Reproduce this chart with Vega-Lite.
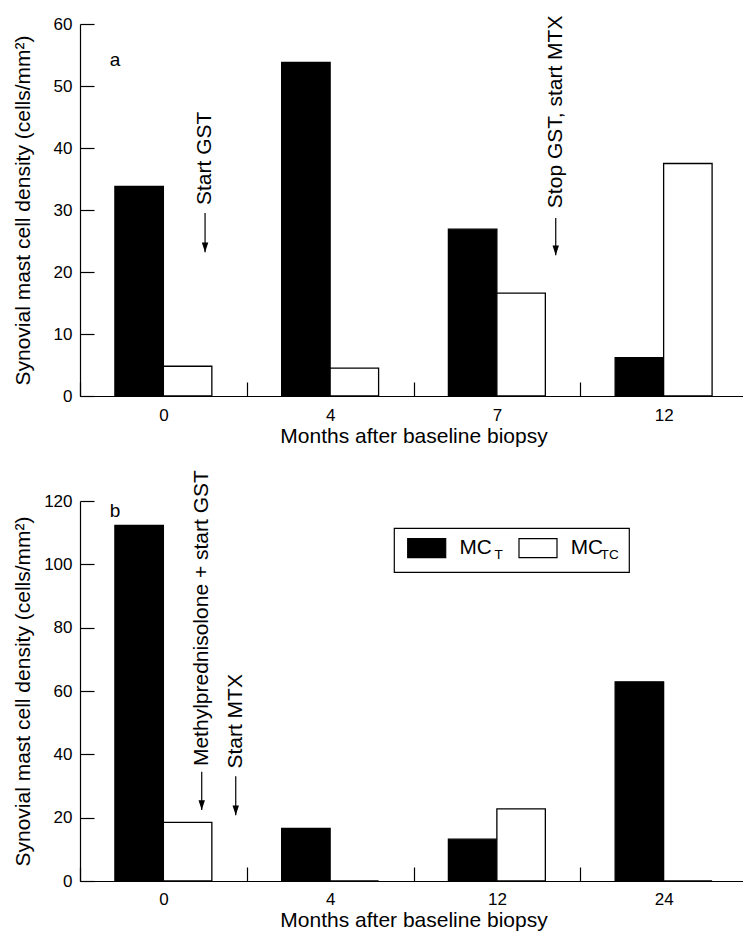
{
  "$schema": "https://vega.github.io/schema/vega-lite/v6.json",
  "padding": {"left": 12, "top": 15, "right": 0, "bottom": 6},
  "autosize": {"type": "pad"},
  "background": "white",
  "config": {
    "font": "Liberation Sans",
    "view": {"stroke": null},
    "axis": {
      "domainColor": "black", "tickColor": "black", "labelColor": "black", "titleColor": "black",
      "labelFont": "Liberation Sans", "titleFont": "Liberation Sans", "titleFontWeight": "normal",
      "grid": false, "domainWidth": 1.2, "tickWidth": 1.2
    },
    "text": {"font": "Liberation Sans", "color": "black"}
  },
  "datasets": {
    "barsA": [
      {"month": "0", "series": "MCT", "value": 33.8},
      {"month": "0", "series": "MCTC", "value": 4.8},
      {"month": "4", "series": "MCT", "value": 53.8},
      {"month": "4", "series": "MCTC", "value": 4.5},
      {"month": "7", "series": "MCT", "value": 26.9},
      {"month": "7", "series": "MCTC", "value": 16.6},
      {"month": "12", "series": "MCT", "value": 6.2},
      {"month": "12", "series": "MCTC", "value": 37.5}
    ],
    "barsB": [
      {"month": "0", "series": "MCT", "sub": "T", "value": 112.3},
      {"month": "0", "series": "MCTC", "sub": "TC", "value": 18.5},
      {"month": "4", "series": "MCT", "sub": "T", "value": 16.6},
      {"month": "4", "series": "MCTC", "sub": "TC", "value": 0},
      {"month": "12", "series": "MCT", "sub": "T", "value": 13.2},
      {"month": "12", "series": "MCTC", "sub": "TC", "value": 22.8},
      {"month": "24", "series": "MCT", "sub": "T", "value": 62.9},
      {"month": "24", "series": "MCTC", "sub": "TC", "value": 0}
    ],
    "annotA": [
      {"pos": 0.75, "label": "Start GST", "textY": 30.8, "lineTop": 29.5, "tip": 23.2},
      {"pos": 2.853, "label": "Stop GST, start MTX", "textY": 30.3, "lineTop": 28.7, "tip": 22.7}
    ],
    "annotB": [
      {"pos": 0.73, "label": "Methylprednisolone + start GST", "textY": 36.3, "lineTop": 34.5, "tip": 22.4},
      {"pos": 0.934, "label": "Start MTX", "textY": 35.5, "lineTop": 33.1, "tip": 20.8}
    ],
    "panelA": [{"pos": 0.21, "y": 54.2, "label": "a"}],
    "panelB": [{"pos": 0.21, "y": 117, "label": "b"}]
  },
  "vconcat": [
    {
      "width": 667,
      "height": 372,
      "layer": [
        {
          "data": {"name": "barsA"},
          "mark": {"type": "bar", "stroke": "black", "strokeWidth": 1.3},
          "encoding": {
            "x": {
              "field": "month", "type": "nominal", "sort": ["0", "4", "7", "12"],
              "scale": {"paddingInner": 0, "paddingOuter": 0},
              "axis": {
                "tickBand": "extent", "tickSize": -14, "labelPadding": 25, "labelFontSize": 17, "labelAngle": 0,
                "title": "Months after baseline biopsy", "titleFontSize": 21, "titleY": 46, "titleBaseline": "alphabetic"
              }
            },
            "xOffset": {"field": "series", "type": "nominal", "sort": ["MCT", "MCTC"], "scale": {"paddingInner": 0, "paddingOuter": 0.72}},
            "y": {
              "field": "value", "type": "quantitative", "scale": {"domain": [0, 60], "nice": false},
              "axis": {
                "values": [0, 10, 20, 30, 40, 50, 60], "tickSize": -14, "labelPadding": 22, "labelFontSize": 17,
                "title": "Synovial mast cell density (cells/mm²)", "titleFontSize": 21, "titleX": -51, "titleBaseline": "alphabetic"
              }
            },
            "fill": {"field": "series", "type": "nominal", "scale": {"domain": ["MCT", "MCTC"], "range": ["black", "white"]}, "legend": null}
          }
        },
        {
          "layer": [
            {
              "data": {"name": "annotA"},
              "mark": {"type": "rule", "color": "black", "strokeWidth": 1.2},
              "encoding": {
                "x": {"field": "pos", "type": "quantitative", "scale": {"domain": [0, 4], "nice": false, "zero": false}, "axis": null},
                "y": {"field": "lineTop", "type": "quantitative"},
                "y2": {"field": "tip"}
              }
            },
            {
              "data": {"name": "annotA"},
              "mark": {"type": "point", "shape": "M-1,-3L1,-3L0,0Z", "size": 42, "filled": true, "color": "black", "opacity": 1},
              "encoding": {
                "x": {"field": "pos", "type": "quantitative", "scale": {"domain": [0, 4], "nice": false, "zero": false}, "axis": null},
                "y": {"field": "tip", "type": "quantitative"}
              }
            },
            {
              "data": {"name": "annotA"},
              "mark": {"type": "text", "angle": 270, "align": "left", "baseline": "middle", "fontSize": 21},
              "encoding": {
                "x": {"field": "pos", "type": "quantitative", "scale": {"domain": [0, 4], "nice": false, "zero": false}, "axis": null},
                "y": {"field": "textY", "type": "quantitative"},
                "text": {"field": "label"}
              }
            },
            {
              "data": {"name": "panelA"},
              "mark": {"type": "text", "align": "center", "baseline": "middle", "fontSize": 19},
              "encoding": {
                "x": {"field": "pos", "type": "quantitative", "scale": {"domain": [0, 4], "nice": false, "zero": false}, "axis": null},
                "y": {"field": "y", "type": "quantitative"},
                "text": {"field": "label"}
              }
            }
          ]
        }
      ],
      "resolve": {"scale": {"x": "independent"}}
    },
    {
      "width": 667,
      "height": 380,
      "layer": [
        {
          "data": {"name": "barsB"},
          "mark": {"type": "bar", "stroke": "black", "strokeWidth": 1.3},
          "encoding": {
            "x": {
              "field": "month", "type": "nominal", "sort": ["0", "4", "12", "24"],
              "scale": {"paddingInner": 0, "paddingOuter": 0},
              "axis": {
                "tickBand": "extent", "tickSize": -14, "labelPadding": 24, "labelFontSize": 17, "labelAngle": 0,
                "title": "Months after baseline biopsy", "titleFontSize": 21, "titleY": 45, "titleBaseline": "alphabetic"
              }
            },
            "xOffset": {"field": "series", "type": "nominal", "sort": ["MCT", "MCTC"], "scale": {"paddingInner": 0, "paddingOuter": 0.72}},
            "y": {
              "field": "value", "type": "quantitative", "scale": {"domain": [0, 120], "nice": false},
              "axis": {
                "values": [0, 20, 40, 60, 80, 100, 120], "tickSize": -14, "labelPadding": 22, "labelFontSize": 17,
                "title": "Synovial mast cell density (cells/mm²)", "titleFontSize": 21, "titleX": -51, "titleBaseline": "alphabetic"
              }
            },
            "fill": {
              "field": "series", "type": "nominal", "scale": {"domain": ["MCT", "MCTC"], "range": ["black", "white"]},
              "legend": {
                "orient": "none", "legendX": 326.7, "legendY": 27, "direction": "horizontal", "title": null,
                "symbolType": "M-1,-0.5H1V0.5H-1Z", "symbolSize": 1444, "symbolStrokeColor": "black", "symbolStrokeWidth": 1.2,
                "labelExpr": "'MC'", "labelFontSize": 20.8, "labelOffset": 12.7, "columnPadding": 23.3, "padding": 0,
                "labelColor": "black", "labelFont": "Liberation Sans",
                "encode": {"symbols": {"update": {"stroke": {"value": "black"}, "strokeWidth": {"value": 1.2}}}}
              }
            },
            "opacity": {
              "field": "sub", "type": "ordinal", "scale": {"domain": ["T", "TC"], "range": [1, 1]},
              "legend": {
                "orient": "none", "legendX": 314, "legendY": 27, "direction": "horizontal", "title": null,
                "symbolSize": 0, "symbolFillColor": "transparent", "symbolStrokeColor": "transparent", "symbolStrokeWidth": 0,
                "labelOffset": 77, "labelFontSize": 13.6, "labelBaseline": "top", "columnPadding": 7, "padding": 10,
                "strokeColor": "black", "labelColor": "black", "labelFont": "Liberation Sans",
                "encode": {
                  "symbols": {"update": {"fill": {"value": "transparent"}, "stroke": {"value": "transparent"}}},
                  "labels": {"update": {"dy": {"value": 3}}},
                  "legend": {"update": {"strokeWidth": {"value": 1.2}}}
                }
              }
            }
          }
        },
        {
          "layer": [
            {
              "data": {"name": "annotB"},
              "mark": {"type": "rule", "color": "black", "strokeWidth": 1.2},
              "encoding": {
                "x": {"field": "pos", "type": "quantitative", "scale": {"domain": [0, 4], "nice": false, "zero": false}, "axis": null},
                "y": {"field": "lineTop", "type": "quantitative"},
                "y2": {"field": "tip"}
              }
            },
            {
              "data": {"name": "annotB"},
              "mark": {"type": "point", "shape": "M-1,-3L1,-3L0,0Z", "size": 42, "filled": true, "color": "black", "opacity": 1},
              "encoding": {
                "x": {"field": "pos", "type": "quantitative", "scale": {"domain": [0, 4], "nice": false, "zero": false}, "axis": null},
                "y": {"field": "tip", "type": "quantitative"}
              }
            },
            {
              "data": {"name": "annotB"},
              "mark": {"type": "text", "angle": 270, "align": "left", "baseline": "middle", "fontSize": 21},
              "encoding": {
                "x": {"field": "pos", "type": "quantitative", "scale": {"domain": [0, 4], "nice": false, "zero": false}, "axis": null},
                "y": {"field": "textY", "type": "quantitative"},
                "text": {"field": "label"}
              }
            },
            {
              "data": {"name": "panelB"},
              "mark": {"type": "text", "align": "center", "baseline": "middle", "fontSize": 19},
              "encoding": {
                "x": {"field": "pos", "type": "quantitative", "scale": {"domain": [0, 4], "nice": false, "zero": false}, "axis": null},
                "y": {"field": "y", "type": "quantitative"},
                "text": {"field": "label"}
              }
            }
          ]
        }
      ],
      "resolve": {"scale": {"x": "independent"}}
    }
  ],
  "spacing": 105,
  "bounds": "flush",
  "resolve": {"scale": {"fill": "independent", "opacity": "independent"}, "legend": {"fill": "independent", "opacity": "independent"}}
}
